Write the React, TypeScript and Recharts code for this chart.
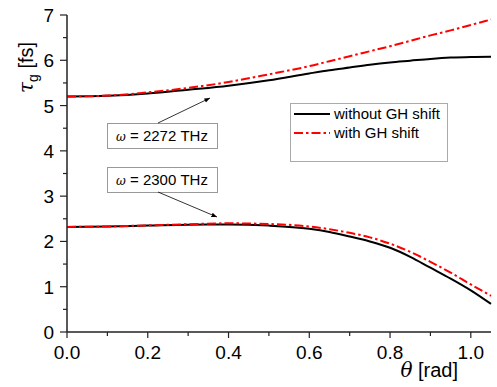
import React from 'react';
import { LineChart, Line, XAxis, YAxis } from 'recharts';

const theta = [0, 0.1, 0.2, 0.3, 0.4, 0.5, 0.6, 0.65, 0.7, 0.75, 0.8, 0.85, 0.9, 0.95, 1.0, 1.05];
const upperNoGH = [5.2, 5.215, 5.265, 5.35, 5.44, 5.56, 5.71, 5.78, 5.84, 5.9, 5.95, 5.99, 6.03, 6.06, 6.075, 6.08];
const upperGH = [5.2, 5.22, 5.29, 5.39, 5.52, 5.69, 5.87, 5.98, 6.09, 6.2, 6.31, 6.43, 6.55, 6.66, 6.78, 6.9];
const lowerNoGH = [2.32, 2.33, 2.35, 2.37, 2.375, 2.35, 2.28, 2.21, 2.11, 2.0, 1.86, 1.66, 1.42, 1.18, 0.92, 0.62];
const lowerGH = [2.32, 2.33, 2.355, 2.38, 2.4, 2.385, 2.33, 2.27, 2.19, 2.09, 1.95, 1.77, 1.55, 1.31, 1.05, 0.8];

const xTicks = [0, 0.1, 0.2, 0.3, 0.4, 0.5, 0.6, 0.7, 0.8, 0.9, 1.0];
const yTicks = [0, 0.5, 1, 1.5, 2, 2.5, 3, 3.5, 4, 4.5, 5, 5.5, 6, 6.5, 7];

const legendItems = ['without GH shift', 'with GH shift'];
const annotations = ['2272 THz', '2300 THz'];

const data = theta.map((t, i) => ({
  t,
  upperNoGH: upperNoGH[i],
  upperGH: upperGH[i],
  lowerNoGH: lowerNoGH[i],
  lowerGH: lowerGH[i],
}));

const FONT = 'Arial, "Liberation Sans", Helvetica, sans-serif';
const AXIS = '#222';
const DASH = '9 3 2.5 3';

// eslint-disable-next-line @typescript-eslint/no-explicit-any
const XTick = (props: any) => {
  const { x, y, payload } = props;
  const major = Math.round(payload.value * 10) % 2 === 0;
  return (
    <g>
      <line x1={x} x2={x} y1={y} y2={y + (major ? 6 : 4)} stroke={AXIS} strokeWidth={1.2} />
      {major && (
        <text x={x} y={y + 27} textAnchor="middle" fontSize={19} fontFamily={FONT} fill="#000">
          {payload.value.toFixed(1)}
        </text>
      )}
    </g>
  );
};

// eslint-disable-next-line @typescript-eslint/no-explicit-any
const YTick = (props: any) => {
  const { x, y, payload } = props;
  const major = Number.isInteger(payload.value);
  return (
    <g>
      <line x1={x - (major ? 7 : 4)} x2={x} y1={y} y2={y} stroke={AXIS} strokeWidth={1.2} />
      {major && (
        <text x={x - 13} y={y + 7} textAnchor="end" fontSize={19} fontFamily={FONT} fill="#000">
          {payload.value}
        </text>
      )}
    </g>
  );
};

export default function App() {
  return (
    <div style={{ position: 'absolute', left: 0, top: 0, width: 497, height: 387, background: '#fff' }}>
      <LineChart width={497} height={387} data={data} margin={{ top: 15, right: 6, bottom: 15, left: 0 }}>
        <XAxis
          dataKey="t"
          type="number"
          domain={[0, 1.05]}
          ticks={xTicks}
          tick={<XTick />}
          tickLine={false}
          tickSize={0}
          tickMargin={0}
          height={40}
          axisLine={{ stroke: AXIS, strokeWidth: 1.5 }}
          interval={0}
        />
        <YAxis
          type="number"
          domain={[0, 7]}
          ticks={yTicks}
          tick={<YTick />}
          tickLine={false}
          tickSize={0}
          tickMargin={0}
          width={67}
          axisLine={{ stroke: AXIS, strokeWidth: 1.5 }}
          interval={0}
        />
        <Line dataKey="upperNoGH" type="monotone" stroke="#000" strokeWidth={2} dot={false} isAnimationActive={false} />
        <Line dataKey="lowerNoGH" type="monotone" stroke="#000" strokeWidth={2} dot={false} isAnimationActive={false} />
        <Line dataKey="upperGH" type="monotone" stroke="#ff0000" strokeWidth={2} strokeDasharray={DASH} dot={false} isAnimationActive={false} />
        <Line dataKey="lowerGH" type="monotone" stroke="#ff0000" strokeWidth={2} strokeDasharray={DASH} dot={false} isAnimationActive={false} />
      </LineChart>
      <svg width={497} height={387} style={{ position: 'absolute', left: 0, top: 0, pointerEvents: 'none' }}>
        <defs>
          <marker id="ah" viewBox="0 0 10 10" refX="10" refY="5" markerWidth="7" markerHeight="7" orient="auto">
            <path d="M0,1 L10,5 L0,9 z" fill="#000" />
          </marker>
        </defs>
        {/* y label */}
        <text transform="translate(33,93) rotate(-90)" fontSize={20} fontFamily={FONT} fill="#000">
          <tspan fontStyle="italic" fontFamily='"DejaVu Serif", serif'>τ</tspan>
          <tspan fontSize={14} dy={5}>g</tspan>
          <tspan dy={-5}> [fs]</tspan>
        </text>
        {/* x label */}
        <text x={458} y={377} textAnchor="end" fontSize={20} fontFamily={FONT} fill="#000">
          <tspan fontStyle="italic" fontFamily='"DejaVu Serif", serif'>θ</tspan>
          <tspan> [rad]</tspan>
        </text>
        {/* annotations */}
        {annotations.map((a, i) => {
          const top = i === 0 ? 123 : 167;
          return (
            <g key={a}>
              <rect x={107.5} y={top + 0.5} width={110} height={25} fill="#fff" stroke="#999" strokeWidth={1} />
              <text x={116} y={top + 18} fontSize={15} fontFamily={FONT} fill="#000">
                <tspan fontStyle="italic" fontSize={12} fontFamily='"DejaVu Serif", serif'>ω</tspan>
                <tspan fontSize={15}> = {a}</tspan>
              </text>
            </g>
          );
        })}
        <line x1={158} y1={123} x2={210} y2={98} stroke="#000" strokeWidth={0.8} markerEnd="url(#ah)" />
        <line x1={158} y1={192} x2={217} y2={217} stroke="#000" strokeWidth={0.8} markerEnd="url(#ah)" />
        {/* legend */}
        <rect x={290.5} y={103.5} width={157} height={58} fill="#fff" stroke="#aaa" strokeWidth={1} />
        {legendItems.map((l, i) => {
          const y = 114 + i * 19;
          return (
            <g key={l}>
              <line
                x1={294}
                x2={330}
                y1={y}
                y2={y}
                stroke={i === 0 ? '#000' : '#ff0000'}
                strokeWidth={2}
                strokeDasharray={i === 0 ? undefined : DASH}
              />
              <text x={334} y={y + 5} fontSize={15} fontFamily={FONT} fill="#000">
                {l}
              </text>
            </g>
          );
        })}
      </svg>
    </div>
  );
}
